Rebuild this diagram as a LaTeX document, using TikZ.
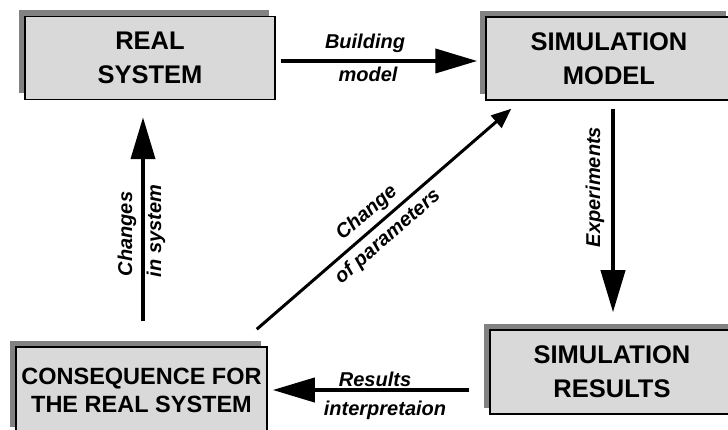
\documentclass[tikz,border=0pt]{standalone}
\usepackage{fontspec}
\setmainfont{Liberation Sans}
\usetikzlibrary{arrows.meta,shadows}
\definecolor{boxgray}{RGB}{217,217,217}
\definecolor{shadowgray}{RGB}{130,130,130}

\tikzset{
  stage/.style={draw=black, line width=1.5pt, fill=boxgray,
    minimum width=250pt, minimum height=83pt, align=center,
    font=\fontsize{25.5}{34}\selectfont\bfseries,
    general shadow={fill=shadowgray, shadow xshift=-6pt, shadow yshift=6pt}},
  flow/.style={line width=4pt, -{Triangle[length=42pt,width=24pt]}},
  thinflow/.style={line width=3pt, -{Triangle[length=20pt,width=16pt]}},
  lbl/.style={font=\fontsize{20}{22}\selectfont\bfseries\itshape, inner sep=0pt},
}

\begin{document}
\begin{tikzpicture}[x=1pt,y=-1pt]
  \useasboundingbox (0,0) rectangle (728,430);
  % Boxes
  \node[stage] (real) at (150,58) {REAL\\SYSTEM};
  \node[stage, minimum width=246pt] (model) at (609,58.5) {SIMULATION\\MODEL};
  \node[stage, minimum width=244pt, minimum height=84pt] (results) at (612,372) {SIMULATION\\RESULTS};
  \node[stage, minimum width=251pt, minimum height=86pt,
        font=\fontsize{23.5}{28}\selectfont\bfseries] (conseq) at (141.5,390) {CONSEQUENCE FOR\\THE REAL SYSTEM};
  % Connectors
  \draw[flow, shorten <=5pt, shorten >=8pt]
    ([yshift=-3pt]real.east) -- ([yshift=-3pt]real.east -| model.west);
  \draw[flow, shorten <=8pt, shorten >=17pt]
    ([xshift=4pt]model.south) -- ([xshift=4pt]model.south |- results.north);
  \draw[flow, shorten <=20pt, shorten >=5pt]
    (results.west |- conseq.east) -- (conseq.east);
  \draw[flow, shorten <=25pt, shorten >=17pt]
    ([xshift=1.5pt]conseq.north) -- ([xshift=1.5pt]conseq.north |- real.south);
  \draw[thinflow]
    ([shift={(-11,-17)}]conseq.north east) -- ([shift={(26,8)}]model.south west);
  % Labels
  \node[lbl] (build1) at (365,43) {Building};
  \node[lbl] (build2) at (368,74) {model};
  \node[lbl, rotate=90] (exper) at (595,187) {Experiments};
  \node[lbl, rotate=90] (chg1) at (127,234) {Changes};
  \node[lbl, rotate=90] (chg2) at (156,231) {in system};
  \node[lbl] (res1) at (375,379) {Results};
  \node[lbl] (res2) at (385,410) {interpretaion};
  \node[lbl, rotate=41] (par1) at (367,213) {Change};
  \node[lbl, rotate=41] (par2) at (388,237) {of parameters};
\end{tikzpicture}
\end{document}
